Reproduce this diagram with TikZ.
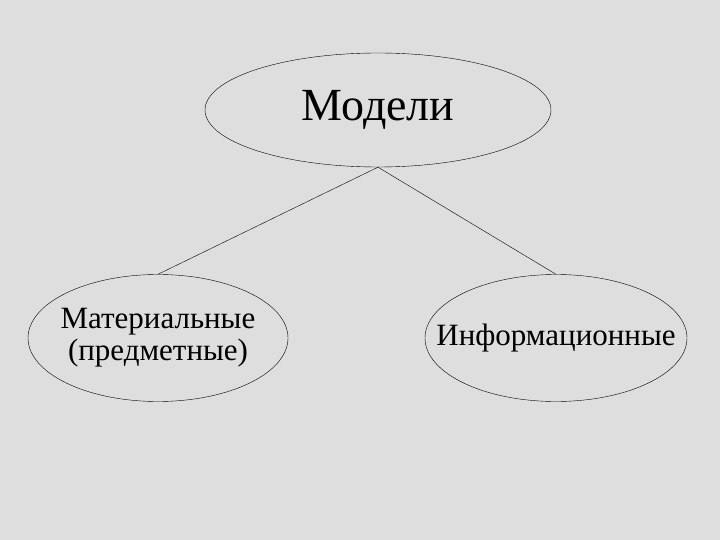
\documentclass[tikz,border=0pt]{standalone}
\usepackage{fontspec}
\setmainfont{Liberation Serif}
\usetikzlibrary{shapes.geometric}
\definecolor{bgtex}{RGB}{222,222,222}
\tikzset{oval/.style={draw, ellipse, inner sep=0pt, thin},
  caption/.style={inner sep=0pt, align=center}}
\begin{document}
\begin{tikzpicture}[x=1pt, y=-1pt]
\fill[bgtex] (0,0) rectangle (720,540);
\useasboundingbox (0,0) rectangle (720,540);
\node[oval, minimum width=346pt, minimum height=114pt] (models) at (378,110) {};
\node[oval, minimum width=260pt, minimum height=127pt] (mat) at (158,338) {};
\node[oval, minimum width=262pt, minimum height=127pt] (info) at (556,338) {};
\node[caption, font=\fontsize{46}{48}\selectfont] (modelsText) at (models) {Модели};
\node[caption, font=\fontsize{31}{32}\selectfont] (matText) at (mat) {Материальные\\(предметные)};
\node[caption, font=\fontsize{31}{32}\selectfont] (infoText) at (info) {Информационные};
\draw[thin] (models.south) -- (mat.north);
\draw[thin] (models.south) -- (info.north);
\end{tikzpicture}
\end{document}
